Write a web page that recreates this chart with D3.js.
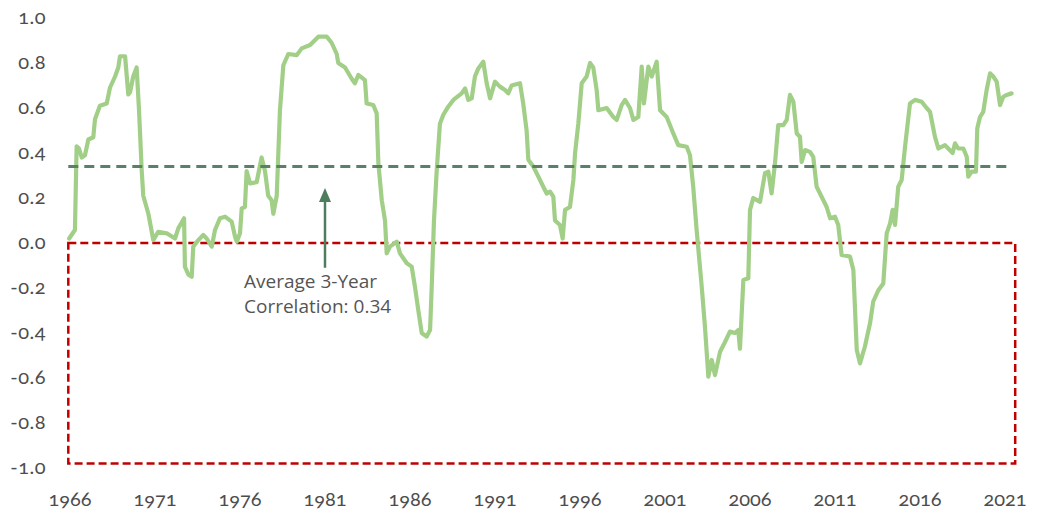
<!DOCTYPE html>
<html><head><meta charset="utf-8">
<script src="https://cdn.jsdelivr.net/npm/d3@7/dist/d3.min.js"></script>
<style>
body{margin:0;background:#fff;}
svg{display:block;}
.tick-label{font-family:Lato,"Noto Sans",sans-serif;font-variant-numeric:oldstyle-nums;font-feature-settings:"onum" 1;fill:#4d4d4d;}
</style></head>
<body>
<svg id="chart" width="1041" height="525"></svg>
<script>
const years = [1965.95,1966.29,1966.39,1966.53,1966.69,1966.88,1967.08,1967.37,1967.47,1967.76,1968.16,1968.35,1968.65,1968.84,1968.94,1969.24,1969.43,1969.53,1969.72,1969.92,1970.06,1970.22,1970.31,1970.61,1970.90,1971.19,1971.69,1972.18,1972.37,1972.71,1972.76,1972.96,1973.16,1973.25,1973.55,1973.84,1974.04,1974.34,1974.53,1974.82,1975.12,1975.51,1975.71,1975.81,1976.00,1976.10,1976.29,1976.39,1976.59,1976.98,1977.27,1977.47,1977.66,1977.86,1977.96,1978.16,1978.35,1978.55,1978.84,1979.34,1979.63,1980.12,1980.61,1981.10,1981.39,1981.69,1981.78,1982.18,1982.57,1982.76,1982.96,1983.35,1983.45,1983.84,1984.04,1984.14,1984.34,1984.53,1984.63,1984.82,1985.22,1985.41,1985.81,1986.10,1986.29,1986.49,1986.69,1986.98,1987.18,1987.28,1987.41,1987.57,1987.76,1987.96,1988.25,1988.55,1989.04,1989.24,1989.43,1989.63,1989.82,1990.02,1990.31,1990.51,1990.71,1991.00,1991.29,1991.59,1991.78,1991.98,1992.47,1992.66,1992.86,1992.96,1993.25,1993.55,1993.84,1994.04,1994.24,1994.43,1994.53,1994.82,1994.98,1995.12,1995.41,1995.61,1995.71,1995.90,1996.10,1996.39,1996.59,1996.78,1996.98,1997.08,1997.57,1997.96,1998.16,1998.45,1998.65,1998.94,1999.14,1999.43,1999.63,1999.76,2000.02,2000.22,2000.51,2000.71,2001.10,2001.49,2001.78,2002.28,2002.47,2002.66,2002.86,2003.16,2003.35,2003.55,2003.75,2003.94,2004.24,2004.53,2004.82,2005.12,2005.31,2005.41,2005.61,2005.90,2006.00,2006.19,2006.59,2006.88,2007.08,2007.27,2007.47,2007.66,2007.96,2008.16,2008.35,2008.55,2008.75,2008.94,2009.04,2009.24,2009.53,2009.72,2009.92,2010.21,2010.51,2010.71,2011.00,2011.19,2011.39,2011.88,2012.08,2012.28,2012.47,2012.76,2013.06,2013.25,2013.55,2013.84,2014.04,2014.24,2014.39,2014.53,2014.72,2014.92,2015.12,2015.41,2015.71,2016.10,2016.39,2016.59,2016.88,2017.08,2017.47,2017.66,2017.92,2018.06,2018.25,2018.55,2018.75,2018.84,2019.04,2019.29,2019.37,2019.53,2019.72,2019.92,2020.12,2020.31,2020.51,2020.71,2020.90,2021.10,2021.39];
const correlation = [0.02,0.058,0.43,0.42,0.38,0.39,0.46,0.47,0.55,0.61,0.62,0.69,0.74,0.78,0.83,0.83,0.66,0.67,0.74,0.78,0.59,0.32,0.21,0.13,0.013,0.05,0.043,0.02,0.065,0.11,-0.105,-0.14,-0.15,-0.016,0.013,0.036,0.02,-0.016,0.058,0.11,0.117,0.095,0.028,0.006,0.043,0.154,0.16,0.32,0.265,0.27,0.38,0.32,0.21,0.19,0.13,0.21,0.59,0.79,0.84,0.835,0.865,0.88,0.917,0.917,0.89,0.84,0.80,0.78,0.73,0.71,0.747,0.724,0.62,0.613,0.576,0.354,0.19,0.10,-0.046,-0.016,0.006,-0.046,-0.09,-0.105,-0.194,-0.30,-0.40,-0.416,-0.387,-0.19,0.10,0.32,0.53,0.57,0.606,0.636,0.665,0.687,0.636,0.643,0.74,0.776,0.806,0.71,0.643,0.717,0.695,0.68,0.665,0.70,0.71,0.62,0.50,0.37,0.34,0.295,0.25,0.22,0.228,0.206,0.10,0.08,0.02,0.147,0.16,0.28,0.40,0.53,0.71,0.74,0.80,0.78,0.68,0.59,0.60,0.56,0.547,0.613,0.636,0.60,0.547,0.56,0.784,0.62,0.784,0.74,0.806,0.59,0.56,0.487,0.435,0.428,0.39,0.25,0.058,-0.194,-0.372,-0.594,-0.52,-0.587,-0.483,-0.44,-0.394,-0.40,-0.387,-0.47,-0.164,-0.157,0.147,0.20,0.183,0.31,0.317,0.22,0.354,0.524,0.524,0.547,0.658,0.628,0.487,0.472,0.36,0.413,0.405,0.383,0.25,0.206,0.16,0.11,0.117,0.08,-0.053,-0.06,-0.12,-0.476,-0.535,-0.46,-0.357,-0.26,-0.21,-0.18,0.043,0.087,0.147,0.08,0.25,0.28,0.428,0.62,0.636,0.628,0.60,0.583,0.472,0.42,0.435,0.42,0.40,0.443,0.42,0.42,0.383,0.295,0.317,0.317,0.51,0.56,0.583,0.68,0.754,0.74,0.717,0.613,0.65,0.658,0.665];
const average = 0.34;
const yTicks = [1.0,0.8,0.6,0.4,0.2,0.0,-0.2,-0.4,-0.6,-0.8,-1.0];
const xTicks = [1966,1971,1976,1981,1986,1991,1996,2001,2006,2011,2016,2021];
const annotationLines = ["Average 3-Year","Correlation: 0.34"];
const arrowYear = 1981, arrowFrom = -0.11, arrowTo = 0.245;
const boxRange = {x0:1965.9, x1:2021.6, y0:0.0, y1:-0.98};

const svg = d3.select("#chart");
const x = d3.scaleLinear().domain([1966,2021]).range([70,1005]);
const y = d3.scaleLinear().domain([-1,1]).range([468,18]);
const fmt = d => d3.format(".1f")(d).replace("\u2212","-");

// y labels
svg.append("g").selectAll("text").data(yTicks).join("text")
  .attr("class","tick-label")
  .attr("x",46).attr("y",d=>y(d)).attr("dy","0.3em")
  .attr("text-anchor","end").attr("font-size",20)
  .attr("letter-spacing",0.5)
  .text(fmt);

// x labels
svg.append("g").selectAll("text").data(xTicks).join("text")
  .attr("class","tick-label")
  .attr("x",d=>x(d)).attr("y",500).attr("dy","0.3em")
  .attr("text-anchor","middle").attr("font-size",20)
  .text(d=>d);

// red dashed box
svg.append("rect")
  .attr("x",x(boxRange.x0)).attr("y",y(boxRange.y0))
  .attr("width",x(boxRange.x1)-x(boxRange.x0))
  .attr("height",y(boxRange.y1)-y(boxRange.y0))
  .attr("fill","none").attr("stroke","#c00000").attr("stroke-width",2.5)
  .attr("stroke-dasharray","8,4");

// series line
const pts = years.map((t,i)=>[t,correlation[i]]);
svg.append("path").datum(pts)
  .attr("fill","none").attr("stroke","#a2cf88").attr("stroke-width",4.2)
  .attr("stroke-linejoin","round").attr("stroke-linecap","round")
  .attr("d",d3.line().x(d=>x(d[0])).y(d=>y(d[1])));

// average line
svg.append("line")
  .attr("x1",x(1965.9)).attr("x2",x(2021.4))
  .attr("y1",y(average)).attr("y2",y(average))
  .attr("stroke","#5b7f67").attr("stroke-width",3)
  .attr("stroke-dasharray","10,6");

// arrow
const ax = x(arrowYear);
svg.append("line").attr("x1",ax).attr("x2",ax)
  .attr("y1",y(arrowFrom)).attr("y2",y(arrowTo)+10)
  .attr("stroke","#4e7c5e").attr("stroke-width",2.5);
svg.append("path")
  .attr("d",`M${ax},${y(arrowTo)} L${ax-6},${y(arrowTo)+14} L${ax+6},${y(arrowTo)+14} Z`)
  .attr("fill","#4e7c5e");

// annotation text
svg.append("g").selectAll("text").data(annotationLines).join("text")
  .attr("x",244).attr("y",(d,i)=>288+i*25)
  .attr("font-family","'Open Sans',sans-serif").attr("font-size",19)
  .attr("fill","#555").text(d=>d);
</script>
</body></html>
